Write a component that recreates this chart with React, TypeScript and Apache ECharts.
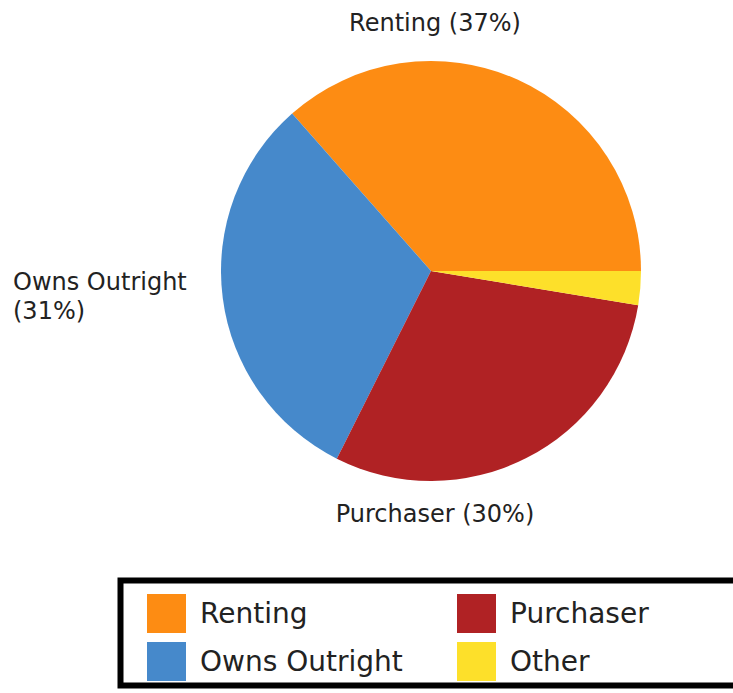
import React, { useEffect, useRef } from "react";
import * as echarts from "echarts";

const categories = ["Renting", "Owns Outright", "Purchaser", "Other"];
const shares = [36.5, 31.1, 29.8, 2.6];
const labelTexts = ["Renting (37%)", "Owns Outright\n(31%)", "Purchaser (30%)", ""];
const colors = ["#fd8c13", "#4689cb", "#b02224", "#fde02a"];
const legendLeftColumn = ["Renting", "Owns Outright"];
const legendRightColumn = ["Purchaser", "Other"];

const labelPlacement = [
  { x: 435, y: 23, align: "center" },
  { x: 13, y: 296, align: "left" },
  { x: 435, y: 514, align: "center" },
  { x: 0, y: 0, align: "left" },
];

export default function App() {
  const ref = useRef<HTMLDivElement>(null);
  useEffect(() => {
    document.body.style.margin = "0";
    if (!ref.current) return;
    const chart = echarts.init(ref.current, undefined, { renderer: "svg" });
    const font = "DejaVu Sans";
    const legendCommon = {
      orient: "vertical",
      itemWidth: 39,
      itemHeight: 39,
      itemGap: 9,
      icon: "rect",
      textStyle: { fontFamily: font, fontSize: 28, color: "#222", padding: [0, 0, 0, 9] },
      selectedMode: false,
      padding: 0,
    };
    chart.setOption({
      animation: false,
      color: colors,
      graphic: [
        {
          type: "rect",
          shape: { x: 120.5, y: 580.5, width: 700, height: 105 },
          style: { fill: "#fff", stroke: "#000", lineWidth: 6 },
          z: -10,
        },
      ],
      legend: [
        { ...legendCommon, left: 147, top: 594, data: legendLeftColumn },
        { ...legendCommon, left: 457, top: 594, data: legendRightColumn },
      ],
      series: [
        {
          type: "pie",
          center: [431, 271],
          radius: 210,
          startAngle: 0,
          clockwise: false,
          avoidLabelOverlap: false,
          labelLine: { show: false },
          label: {
            show: true,
            position: "outside",
            fontFamily: font,
            fontSize: 24,
            lineHeight: 29,
            color: "#222",
            formatter: (p: any) => labelTexts[p.dataIndex],
          },
          labelLayout: (p: any) => {
            const pl = labelPlacement[p.dataIndex];
            return { x: pl.x, y: pl.y, align: pl.align, verticalAlign: "middle" };
          },
          itemStyle: { borderWidth: 0 },
          emphasis: { disabled: true },
          data: categories.map((name, i) => ({
            name,
            value: shares[i],
            label: { show: labelTexts[i] !== "" },
          })),
        },
      ],
    });
    return () => chart.dispose();
  }, []);
  return <div ref={ref} style={{ width: 733, height: 693 }} />;
}
